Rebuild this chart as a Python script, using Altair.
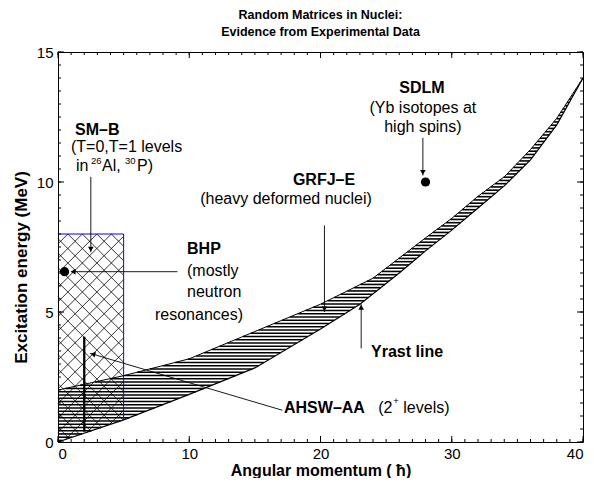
import numpy as np
import pandas as pd
import altair as alt

# ---------------- data ----------------
# upper edge of the band and the Yrast line (J in hbar, E in MeV)
upper_J = [0, 5, 10, 15, 20, 24, 28, 30, 32, 34, 36, 38, 40]
upper_E = [2.0, 2.55, 3.2, 4.25, 5.3, 6.3, 7.85, 8.6, 9.45, 10.2, 11.25, 12.45, 14.0]
yrast_J = [0, 5, 10, 15, 20, 23, 26, 28, 30, 32, 34, 36, 38, 40]
yrast_E = [0.0, 0.85, 1.83, 2.85, 4.35, 5.3, 6.5, 7.35, 8.15, 9.0, 9.85, 10.85, 12.2, 14.0]

# SM-B box (shell-model region)
box_J = [0, 5]
box_top = 8.0

# data points
dot_J = [28.0, 0.5]
dot_E = [10.0, 6.55]

# AHSW-AA 2+ level range at J = 2
bar_J = [2.0]
bar_E0 = [0.4]
bar_E1 = [4.05]

# arrow shafts
arrow_J0 = [27.8, 2.5, 9.1, 20.3, 23.1, 17.1]
arrow_E0 = [11.7, 10.2, 6.55, 8.33, 3.6, 1.22]
arrow_J1 = [27.8, 2.5, 1.0, 20.3, 23.1, 2.44]
arrow_E1 = [10.25, 7.3, 6.55, 5.0, 5.3, 3.41]
# arrow heads
head_J = [27.8, 2.5, 1.15, 20.3, 23.1, 2.66]
head_E = [10.37, 7.42, 6.55, 5.12, 5.18, 3.38]
head_angle = [180, 180, 270, 180, 0, 286.4]

# annotations (normal size)
ann_text = ["SDLM", "(Yb isotopes at", "high spins)",
            "SM–B", "(T=0,T=1 levels", "in", "Al,", "P)",
            "GRFJ–E", "(heavy deformed nuclei)",
            "BHP", "(mostly", "neutron", "resonances)",
            "Yrast line", "AHSW–AA", "(2", "levels)"]
ann_J = [27.73, 27.8, 27.8, 1.3, 0.99, 1.37, 3.35, 6.02, 20.27, 17.37,
         9.83, 9.83, 9.83, 7.39, 23.85, 17.22, 24.4, 26.31]
ann_E = [13.6, 12.83, 12.1, 11.99, 11.33, 10.6, 10.6, 10.6, 10.06, 9.34,
         7.41, 6.56, 5.76, 4.87, 3.45, 1.30, 1.30, 1.30]
ann_bold = [True, False, False, True, False, False, False, False, True, False,
            True, False, False, False, True, True, False, False]
ann_center = [True, True, True, False, False, False, False, False, True, True,
              False, False, False, False, False, False, False, False]
# superscripts
sup_text = ["26", "30", "+"]
sup_J = [2.51, 5.10, 25.55]
sup_E = [10.82, 10.82, 1.57]

x_major = [0, 10, 20, 30, 40]
x_minor = list(range(0, 41))
y_major = [0, 5, 10, 15]
y_minor = [i * 0.5 for i in range(31)]

# ---------------- chart ----------------
W, H = 525, 390
FONT = "Liberation Sans"
xs = alt.Scale(domain=[0, 40], nice=False, zero=False)
ys = alt.Scale(domain=[0, 15], nice=False, zero=False)
x_axis = alt.Axis(values=x_major, ticks=False, domain=False, grid=False,
                  labelFontSize=15, labelFont=FONT, labelPadding=4, labelColor="black",
                  title="Angular momentum ( ħ)", titleFont=FONT, titleFontSize=16,
                  titleFontWeight="bold", titleColor="black",
                  titleY=28, titleBaseline="middle")
y_axis = alt.Axis(values=y_major, ticks=False, domain=False, grid=False,
                  labelFontSize=15, labelFont=FONT, labelPadding=5, labelColor="black",
                  title="Excitation energy (MeV)", titleFont=FONT, titleFontSize=17,
                  titleFontWeight="bold", titleColor="black", titleX=-37, titleY=215,
                  titleBaseline="middle", titleAlign="center", titleAngle=-90)

def X(f):
    return alt.X(f, type="quantitative", scale=xs, axis=x_axis)

def Y(f):
    return alt.Y(f, type="quantitative", scale=ys, axis=y_axis)

uJ, uE = np.array(upper_J, float), np.array(upper_E, float)
lJ, lE = np.array(yrast_J, float), np.array(yrast_E, float)

# horizontal hatching of the band
levels = np.arange(0.06, 14.0, 0.125)
left = np.where(levels < uE[0], 0.0, np.interp(levels, uE, uJ))
right = np.interp(levels, lE, lJ)
m = right > left
stripes = pd.DataFrame({"x": left[m], "x2": right[m], "y": levels[m]})

# cross hatching of the SM-B box
slope = (W / 40) / (H / 15)
grid = np.linspace(box_J[0], box_J[1], 2001)
low = np.interp(grid, lJ, lE)
rows = []
for a in np.arange(0.75 - 1.105 * 16, 5 + 1.105 * 16, 1.105):
    for sgn in (1, -1):
        e = box_top + sgn * slope * (grid - a)
        inside = (e <= box_top + 1e-9) & (e >= low)
        idx = np.where(inside)[0]
        if len(idx) > 1:
            rows.append({"x": grid[idx[0]], "y": e[idx[0]], "x2": grid[idx[-1]], "y2": e[idx[-1]]})
cross = pd.DataFrame(rows)

cross_layer = alt.Chart(cross).mark_rule(color="black", strokeWidth=0.8).encode(
    x=X("x"), y=Y("y"), x2="x2", y2="y2")
stripe_layer = alt.Chart(stripes).mark_rule(color="black", strokeWidth=1.6).encode(
    x=X("x"), x2="x2", y=Y("y"))

upper_df = pd.DataFrame({"J": upper_J, "E": upper_E})
yrast_df = pd.DataFrame({"J": yrast_J, "E": yrast_E})
upper_line = alt.Chart(upper_df).mark_line(color="black", strokeWidth=1).encode(x=X("J"), y=Y("E"))
yrast_line = alt.Chart(yrast_df).mark_line(color="black", strokeWidth=1.2).encode(x=X("J"), y=Y("E"))

low5 = float(np.interp(box_J[1], lJ, lE))
box_df = pd.DataFrame({"x": [box_J[0], box_J[1]], "y": [box_top, box_top],
                       "x2": [box_J[1], box_J[1]], "y2": [box_top, low5]})
box_layer = alt.Chart(box_df).mark_rule(color="#0000ff", strokeWidth=1).encode(
    x=X("x"), y=Y("y"), x2="x2", y2="y2")

bar_df = pd.DataFrame({"x": bar_J, "y": bar_E0, "y2": bar_E1})
bar_layer = alt.Chart(bar_df).mark_rule(color="black", strokeWidth=2.3).encode(
    x=X("x"), y=Y("y"), y2="y2")

arr_df = pd.DataFrame({"x": arrow_J0, "y": arrow_E0, "x2": arrow_J1, "y2": arrow_E1})
arr_layer = alt.Chart(arr_df).mark_rule(color="black", strokeWidth=0.9).encode(
    x=X("x"), y=Y("y"), x2="x2", y2="y2")
head_df = pd.DataFrame({"x": head_J, "y": head_E, "a": head_angle})
head_layer = alt.Chart(head_df).mark_point(shape="triangle-up", filled=True, color="black",
                                           size=32, opacity=1).encode(
    x=X("x"), y=Y("y"), angle=alt.Angle("a:Q", scale=None))

dot_df = pd.DataFrame({"x": dot_J, "y": dot_E})
dot_layer = alt.Chart(dot_df).mark_circle(color="black", size=85, opacity=1).encode(
    x=X("x"), y=Y("y"))

ann = pd.DataFrame({"t": ann_text, "x": ann_J, "y": ann_E, "b": ann_bold, "c": ann_center})
text_layers = []
for b in (True, False):
    for c in (True, False):
        sub = ann[(ann.b == b) & (ann.c == c)]
        if len(sub) == 0:
            continue
        text_layers.append(
            alt.Chart(sub).mark_text(font=FONT, fontSize=16,
                                     fontWeight="bold" if b else "normal",
                                     align="center" if c else "left",
                                     baseline="middle", color="black").encode(
                x=X("x"), y=Y("y"), text="t:N"))
sup_df = pd.DataFrame({"t": sup_text, "x": sup_J, "y": sup_E})
text_layers.append(
    alt.Chart(sup_df).mark_text(font=FONT, fontSize=9.5, align="left", baseline="middle",
                                color="black").encode(x=X("x"), y=Y("y"), text="t:N"))

# inward ticks on all four sides
xmin_df = pd.DataFrame({"v": x_minor})
xmaj_df = pd.DataFrame({"v": x_major})
ymin_df = pd.DataFrame({"v": y_minor})
ymaj_df = pd.DataFrame({"v": y_major})
tick_layers = [
    alt.Chart(xmin_df).mark_rule(color="black").encode(x=X("v"), y=alt.value(H), y2=alt.value(H - 3)),
    alt.Chart(xmin_df).mark_rule(color="black").encode(x=X("v"), y=alt.value(0), y2=alt.value(3)),
    alt.Chart(xmaj_df).mark_rule(color="black").encode(x=X("v"), y=alt.value(H), y2=alt.value(H - 6)),
    alt.Chart(xmaj_df).mark_rule(color="black").encode(x=X("v"), y=alt.value(0), y2=alt.value(6)),
    alt.Chart(ymin_df).mark_rule(color="black").encode(y=Y("v"), x=alt.value(0), x2=alt.value(3)),
    alt.Chart(ymin_df).mark_rule(color="black").encode(y=Y("v"), x=alt.value(W), x2=alt.value(W - 3)),
    alt.Chart(ymaj_df).mark_rule(color="black").encode(y=Y("v"), x=alt.value(0), x2=alt.value(6)),
    alt.Chart(ymaj_df).mark_rule(color="black").encode(y=Y("v"), x=alt.value(W), x2=alt.value(W - 6)),
]

chart = alt.layer(
    cross_layer, stripe_layer, box_layer, upper_line, yrast_line, bar_layer,
    arr_layer, head_layer, dot_layer, *text_layers, *tick_layers
).properties(
    width=W, height=H,
    padding={"left": 50, "top": 44, "right": 3, "bottom": 36},
    autosize=alt.AutoSizeParams(type="none"),
    title=alt.TitleParams(["Random Matrices in Nuclei:", "Evidence from Experimental Data"],
                          font=FONT, fontSize=12.5, fontWeight="bold", color="black",
                          anchor="middle", offset=7, lineHeight=17),
).configure_view(stroke="black", strokeWidth=1)

chart.save("out.html", embed_options={"renderer": "svg", "actions": False})
